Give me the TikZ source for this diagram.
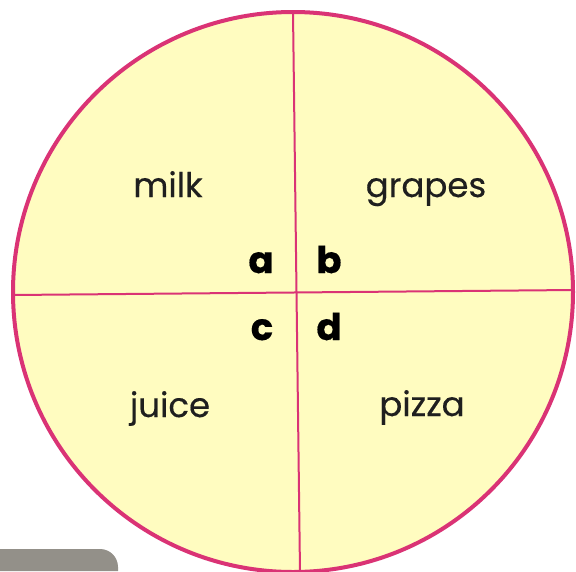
\documentclass[tikz,border=0pt]{standalone}
\usepackage{fontspec}
\setmainfont{Poppins}[FakeBold=0.4]
\definecolor{pie}{HTML}{FFFCC0}
\definecolor{rim}{HTML}{DA3375}
\definecolor{patch}{HTML}{939089}
\tikzset{
  word/.style={font=\fontsize{34}{38}\selectfont, text=black!88, anchor=base},
  letter/.style={font=\fontsize{37}{40}\selectfont\bfseries, text=black, anchor=base}
}
\begin{document}
\begin{tikzpicture}[x=1pt,y=-1pt]
\useasboundingbox (0,0) rectangle (576,571);
\fill[white] (0,0) rectangle (576,571);
\fill[patch] (0,571) -- (0,549) -- (100,549) to[out=0,in=90] (118,567) -- (118,571) -- cycle;
\coordinate (C) at (293,292);
\fill[pie] (C) ellipse [x radius=280, y radius=280];
\coordinate (T) at (293,12);
\coordinate (B) at (300,572);
\coordinate (L) at (13,295);
\coordinate (R) at (574,290);
\draw[rim, line width=2pt] (T) -- (B);
\draw[rim, line width=2pt] (L) -- (R);
\draw[rim, line width=4pt] (C) circle [radius=280];
\node[word] (milk) at (168,197) {milk};
\node[word] (grapes) at (426,197) {grapes};
\node[word] (juice) at (170,417) {juice};
\node[word] (pizza) at (422,416) {pizza};
\node[letter] (a) at (261,273) {a};
\node[letter] (b) at (329,273) {b};
\node[letter] (c) at (262,340) {c};
\node[letter] (d) at (329,340) {d};
\end{tikzpicture}
\end{document}
